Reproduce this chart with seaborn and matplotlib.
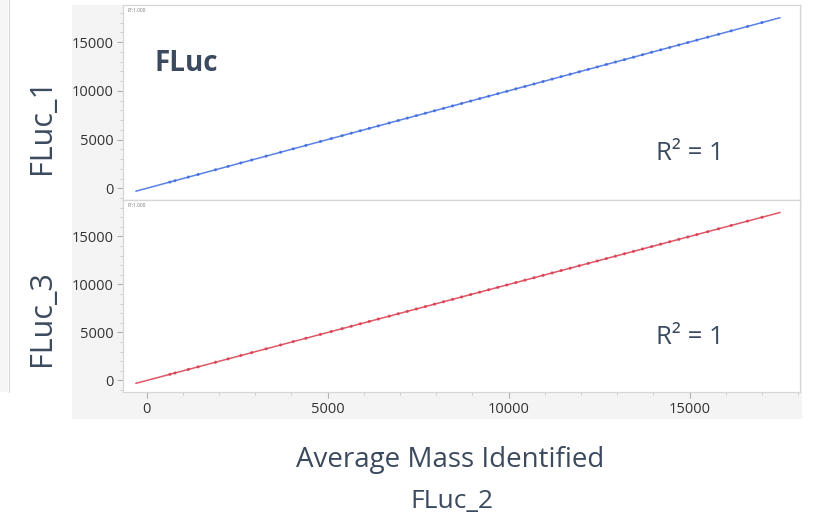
import matplotlib
matplotlib.use("Agg")
import matplotlib.pyplot as plt
from matplotlib.patches import Rectangle
from matplotlib.lines import Line2D
from matplotlib.ticker import MultipleLocator
import seaborn as sns
import pandas as pd

# ---- data (average mass identified) ----
fluc_2 = [640, 780, 1150, 1420, 1900, 2250, 2600, 2900, 3300, 3700, 4050, 4400,
          4800, 5100, 5400, 5650, 5900, 6150, 6400, 6700, 6950, 7200, 7450, 7700,
          7950, 8200, 8450, 8700, 8950, 9200, 9450, 9700, 9950, 10200, 10450,
          10700, 10950, 11200, 11450, 11700, 11950, 12200, 12450, 12700, 12950,
          13200, 13450, 13700, 13950, 14200, 14450, 14700, 14950, 15200, 15500,
          15800, 16150, 16600, 17000]
fluc_1 = [640, 780, 1150, 1420, 1900, 2250, 2600, 2900, 3300, 3700, 4050, 4400,
          4800, 5100, 5400, 5650, 5900, 6150, 6400, 6700, 6950, 7200, 7450, 7700,
          7950, 8200, 8450, 8700, 8950, 9200, 9450, 9700, 9950, 10200, 10450,
          10700, 10950, 11200, 11450, 11700, 11950, 12200, 12450, 12700, 12950,
          13200, 13450, 13700, 13950, 14200, 14450, 14700, 14950, 15200, 15500,
          15800, 16150, 16600, 17000]
fluc_3 = [640, 780, 1150, 1420, 1900, 2250, 2600, 2900, 3300, 3700, 4050, 4400,
          4800, 5100, 5400, 5650, 5900, 6150, 6400, 6700, 6950, 7200, 7450, 7700,
          7950, 8200, 8450, 8700, 8950, 9200, 9450, 9700, 9950, 10200, 10450,
          10700, 10950, 11200, 11450, 11700, 11950, 12200, 12450, 12700, 12950,
          13200, 13450, 13700, 13950, 14200, 14450, 14700, 14950, 15200, 15500,
          15800, 16150, 16600, 17000]
fit_range = [-300, 17500]
x_ticks = [0, 5000, 10000, 15000]
y_ticks = [0, 5000, 10000, 15000]
r2_text = "R² = 1"
small_r2 = "R²:1.000"

sns.set_theme(style="white")
plt.rcParams["font.family"] = ["Open Sans", "DejaVu Sans"]

W, H = 813, 522
fig = plt.figure(figsize=(W / 100, H / 100), dpi=100)
fig.patch.set_facecolor("white")

# grey panel behind the plots
fig.patches.append(Rectangle((72 / W, 1 - 419 / H), 730 / W, 414 / H,
                             transform=fig.transFigure, facecolor="#f4f4f4",
                             edgecolor="none", zorder=-10))
fig.patches.append(Rectangle((0, 1 - 392 / H), 8 / W, 392 / H,
                             transform=fig.transFigure, facecolor="#f6f6f6",
                             edgecolor="none", zorder=-10))
fig.lines.append(Line2D([9 / W, 9 / W], [1 - 392 / H, 1], transform=fig.transFigure,
                        color="#d8d8d8", lw=0.8))

left, width = 123 / W, (800 - 123) / W
ax1 = fig.add_axes([left, 1 - 200 / H, width, 195 / H])
ax2 = fig.add_axes([left, 1 - 392 / H, width, 192 / H], sharex=ax1)

df = pd.DataFrame({"FLuc_2": fluc_2, "FLuc_1": fluc_1, "FLuc_3": fluc_3})

for ax, ycol, col in [(ax1, "FLuc_1", "#3d6be0"), (ax2, "FLuc_3", "#d93a4c")]:
    ax.set_facecolor("white")
    ax.set_xlim(fit_range)
    sns.regplot(data=df, x="FLuc_2", y=ycol, ax=ax, ci=None, truncate=False,
                scatter_kws=dict(s=5, color=col, edgecolor="none", marker="o"),
                line_kws=dict(color=col, lw=1.1, alpha=0.85))
    ax.set_xlim(-655, 18050)
    ax.set_ylim(-1200, 18800)
    ax.set_yticks(y_ticks)
    ax.set_xticks(x_ticks)
    ax.yaxis.set_minor_locator(MultipleLocator(1000))
    ax.xaxis.set_minor_locator(MultipleLocator(1000))
    ax.tick_params(axis="both", which="major", direction="out", length=4,
                   width=0.8, color="#b0b0b0", labelsize=10.5, labelcolor="#333333",
                   left=True, bottom=True, pad=3)
    ax.tick_params(axis="both", which="minor", direction="out", length=2,
                   width=0.6, color="#c8c8c8", left=True, bottom=True)
    for s in ax.spines.values():
        s.set_color("#d6d6d6")
        s.set_linewidth(0.9)
    ax.set_xlabel("")
    ax.set_ylabel("")
    ax.text(0.006, 0.985, small_r2, transform=ax.transAxes, fontsize=3.5,
            color="#777777", va="top", ha="left")

ax1.tick_params(axis="x", which="both", labelbottom=False, length=0)

txtcol = "#3b4a5e"
ax1.text(0.046, 0.70, "FLuc", transform=ax1.transAxes, fontsize=20,
         fontweight="bold", color=txtcol, ha="left", va="center")
fig.text(690 / W, 1 - 153 / H, r2_text, fontsize=18.5, color=txtcol,
         ha="center", va="center")
fig.text(690 / W, 1 - 337 / H, r2_text, fontsize=18.5, color=txtcol,
         ha="center", va="center")

fig.text(42 / W, 1 - 126 / H, "FLuc_1", rotation=90, fontsize=22, color=txtcol,
         ha="center", va="center")
fig.text(42 / W, 1 - 318 / H, "FLuc_3", rotation=90, fontsize=22, color=txtcol,
         ha="center", va="center")
fig.text(450 / W, 1 - 460 / H, "Average Mass Identified", fontsize=20,
         color=txtcol, ha="center", va="center")
fig.text(452 / W, 1 - 502 / H, "FLuc_2", fontsize=19, color=txtcol,
         ha="center", va="center")

fig.savefig("out.png", dpi=100, facecolor="white")
